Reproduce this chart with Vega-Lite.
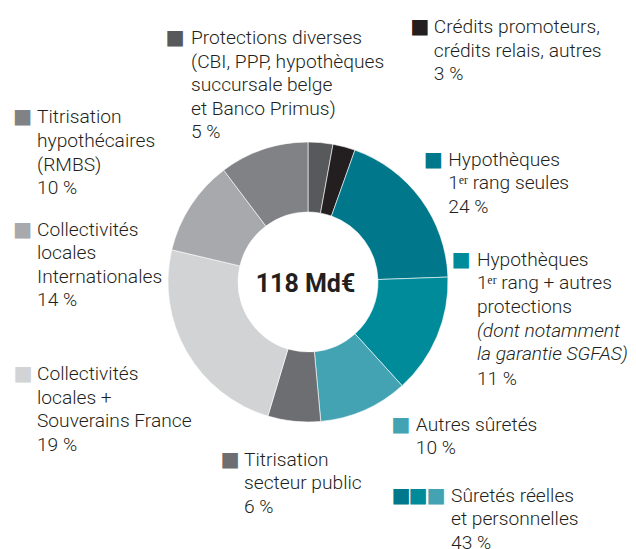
{
"$schema": "https://vega.github.io/schema/vega-lite/v6.json",
"width": 616, "height": 534, "autosize": "none",
"padding": {"left": 0, "top": 15, "right": 20, "bottom": 0},
"background": "white",
"config": {"view": {"stroke": null}, "text": {"font": "Roboto", "fontSize": 19.2, "fontWeight": 300, "color": "#231f20", "lineHeight": 23.6, "lineBreak": "\n", "align": "left", "baseline": "alphabetic"}},
"data": {"values": [
{"cat": "prot", "order": 1, "share": 2.86, "pct": 5, "text": "Protections diverses\n(CBI, PPP, hypothèques\nsuccursale belge\net Banco Primus)\n5 %"},
{"cat": "cred", "order": 2, "share": 2.58, "pct": 3, "text": "Crédits promoteurs,\ncrédits relais, autres\n3 %"},
{"cat": "hyp1", "order": 3, "share": 19.0, "pct": 24, "text": "Hypothèques\n1ᵉʳ rang seules\n24 %"},
{"cat": "hyp2", "order": 4, "share": 13.83, "pct": 11, "text": "Hypothèques\n1ᵉʳ rang + autres\nprotections", "note": "(dont notamment\nla garantie SGFAS)", "tail": "11 %"},
{"cat": "autres", "order": 5, "share": 10.28, "pct": 10, "text": "Autres sûretés\n10 %"},
{"cat": "titsp", "order": 6, "share": 6.08, "pct": 6, "text": "Titrisation\nsecteur public\n6 %"},
{"cat": "collfr", "order": 7, "share": 24.06, "pct": 19, "text": "Collectivités\nlocales +\nSouverains France\n19 %"},
{"cat": "collint", "order": 8, "share": 11.03, "pct": 14, "text": "Collectivités\nlocales\nInternationales\n14 %"},
{"cat": "tithyp", "order": 9, "share": 10.28, "pct": 10, "text": "Titrisation\nhypothécaires\n(RMBS)\n10 %"}
]},
"transform": [{"stack": "share", "groupby": [], "sort": [{"field": "order", "order": "ascending"}], "as": ["s0", "s1"]}],
"encoding": {
  "color": {"field": "cat", "type": "nominal", "legend": null, "scale": {"domain": ["prot", "cred", "hyp1", "hyp2", "autres", "titsp", "collfr", "collint", "tithyp"], "range": ["#58595b", "#231f20", "#00778a", "#008b9b", "#43a3b2", "#6d6e71", "#d1d3d4", "#a7a9ac", "#808285"]}}
},
"layer": [
{"mark": {"type": "arc", "outerRadius": 140, "innerRadius": 70, "stroke": "#ffffff", "strokeWidth": 0.6},
 "encoding": {"theta": {"field": "s0", "type": "quantitative", "stack": null, "scale": {"domain": [0, 100]}}, "theta2": {"field": "s1"}}},
{"data": {"values": [{"t": "118 Md€"}]}, "mark": {"type": "text", "radius": 0, "align": "center", "fontWeight": "bold", "fontSize": 25, "dx": -2.5, "dy": 9.7},
 "encoding": {"text": {"field": "t"}, "color": {"value": "#231f20"}}},

{"transform": [{"filter": "datum.cat === 'prot'"}], "mark": {"type": "text", "radius": 150, "dx": -117, "dy": -88},
 "encoding": {"theta": {"field": "s0", "type": "quantitative", "stack": null, "scale": {"domain": [0, 100]}}, "text": {"field": "text"}, "color": {"value": "#231f20"}}},
{"transform": [{"filter": "datum.cat === 'prot'"}], "mark": {"type": "text", "radius": 150, "font": "DejaVu Sans", "fontWeight": "normal", "fontSize": 20.3, "dx": -142.5, "dy": -88},
 "encoding": {"theta": {"field": "s0", "type": "quantitative", "stack": null, "scale": {"domain": [0, 100]}}, "text": {"value": "■"}}},

{"transform": [{"filter": "datum.cat === 'cred'"}], "mark": {"type": "text", "radius": 150, "dx": 99, "dy": -101.4},
 "encoding": {"theta": {"field": "s0", "type": "quantitative", "stack": null, "scale": {"domain": [0, 100]}}, "text": {"field": "text"}, "color": {"value": "#231f20"}}},
{"transform": [{"filter": "datum.cat === 'cred'"}], "mark": {"type": "text", "radius": 150, "font": "DejaVu Sans", "fontWeight": "normal", "fontSize": 20.3, "dx": 75.5, "dy": -101.4},
 "encoding": {"theta": {"field": "s0", "type": "quantitative", "stack": null, "scale": {"domain": [0, 100]}}, "text": {"value": "■"}}},

{"transform": [{"filter": "datum.cat === 'hyp1'"}], "mark": {"type": "text", "radius": 150, "dx": 90, "dy": 25},
 "encoding": {"theta": {"field": "s0", "type": "quantitative", "stack": null, "scale": {"domain": [0, 100]}}, "text": {"field": "text"}, "color": {"value": "#231f20"}}},
{"transform": [{"filter": "datum.cat === 'hyp1'"}], "mark": {"type": "text", "radius": 150, "font": "DejaVu Sans", "fontWeight": "normal", "fontSize": 20.3, "dx": 65.5, "dy": 25},
 "encoding": {"theta": {"field": "s0", "type": "quantitative", "stack": null, "scale": {"domain": [0, 100]}}, "text": {"value": "■"}}},

{"transform": [{"filter": "datum.cat === 'hyp2'"}], "mark": {"type": "text", "radius": 150, "dx": 19, "dy": -11},
 "encoding": {"theta": {"field": "s0", "type": "quantitative", "stack": null, "scale": {"domain": [0, 100]}}, "text": {"field": "text"}, "color": {"value": "#231f20"}}},
{"transform": [{"filter": "datum.cat === 'hyp2'"}], "mark": {"type": "text", "radius": 150, "fontStyle": "italic", "dx": 19, "dy": 60},
 "encoding": {"theta": {"field": "s0", "type": "quantitative", "stack": null, "scale": {"domain": [0, 100]}}, "text": {"field": "note"}, "color": {"value": "#231f20"}}},
{"transform": [{"filter": "datum.cat === 'hyp2'"}], "mark": {"type": "text", "radius": 150, "dx": 19, "dy": 108.5},
 "encoding": {"theta": {"field": "s0", "type": "quantitative", "stack": null, "scale": {"domain": [0, 100]}}, "text": {"field": "tail"}, "color": {"value": "#231f20"}}},
{"transform": [{"filter": "datum.cat === 'hyp2'"}], "mark": {"type": "text", "radius": 150, "font": "DejaVu Sans", "fontWeight": "normal", "fontSize": 20.3, "dx": -6.5, "dy": -11},
 "encoding": {"theta": {"field": "s0", "type": "quantitative", "stack": null, "scale": {"domain": [0, 100]}}, "text": {"value": "■"}}},

{"transform": [{"filter": "datum.cat === 'autres'"}], "mark": {"type": "text", "radius": 150, "dx": 7, "dy": 37.7},
 "encoding": {"theta": {"field": "s0", "type": "quantitative", "stack": null, "scale": {"domain": [0, 100]}}, "text": {"field": "text"}, "color": {"value": "#231f20"}}},
{"transform": [{"filter": "datum.cat === 'autres'"}], "mark": {"type": "text", "radius": 150, "font": "DejaVu Sans", "fontWeight": "normal", "fontSize": 20.3, "dx": -17.5, "dy": 37.7},
 "encoding": {"theta": {"field": "s0", "type": "quantitative", "stack": null, "scale": {"domain": [0, 100]}}, "text": {"value": "■"}}},

{"transform": [{"filter": "datum.cat === 'titsp'"}], "mark": {"type": "text", "radius": 150, "dx": -77.6, "dy": 34.3},
 "encoding": {"theta": {"field": "s0", "type": "quantitative", "stack": null, "scale": {"domain": [0, 100]}}, "text": {"field": "text"}, "color": {"value": "#231f20"}}},
{"transform": [{"filter": "datum.cat === 'titsp'"}], "mark": {"type": "text", "radius": 150, "font": "DejaVu Sans", "fontWeight": "normal", "fontSize": 20.3, "dx": -101.1, "dy": 34.3},
 "encoding": {"theta": {"field": "s0", "type": "quantitative", "stack": null, "scale": {"domain": [0, 100]}}, "text": {"value": "■"}}},

{"transform": [{"filter": "datum.cat === 'collfr'"}], "mark": {"type": "text", "radius": 150, "dx": -228, "dy": -45.7},
 "encoding": {"theta": {"field": "s0", "type": "quantitative", "stack": null, "scale": {"domain": [0, 100]}}, "text": {"field": "text"}, "color": {"value": "#231f20"}}},
{"transform": [{"filter": "datum.cat === 'collfr'"}], "mark": {"type": "text", "radius": 150, "font": "DejaVu Sans", "fontWeight": "normal", "fontSize": 20.3, "dx": -251.5, "dy": -45.7},
 "encoding": {"theta": {"field": "s0", "type": "quantitative", "stack": null, "scale": {"domain": [0, 100]}}, "text": {"value": "■"}}},

{"transform": [{"filter": "datum.cat === 'collint'"}], "mark": {"type": "text", "radius": 150, "dx": -125, "dy": -12},
 "encoding": {"theta": {"field": "s0", "type": "quantitative", "stack": null, "scale": {"domain": [0, 100]}}, "text": {"field": "text"}, "color": {"value": "#231f20"}}},
{"transform": [{"filter": "datum.cat === 'collint'"}], "mark": {"type": "text", "radius": 150, "font": "DejaVu Sans", "fontWeight": "normal", "fontSize": 20.3, "dx": -149, "dy": -12},
 "encoding": {"theta": {"field": "s0", "type": "quantitative", "stack": null, "scale": {"domain": [0, 100]}}, "text": {"value": "■"}}},

{"transform": [{"filter": "datum.cat === 'tithyp'"}], "mark": {"type": "text", "radius": 150, "dx": -180.7, "dy": -38.9},
 "encoding": {"theta": {"field": "s0", "type": "quantitative", "stack": null, "scale": {"domain": [0, 100]}}, "text": {"field": "text"}, "color": {"value": "#231f20"}}},
{"transform": [{"filter": "datum.cat === 'tithyp'"}], "mark": {"type": "text", "radius": 150, "font": "DejaVu Sans", "fontWeight": "normal", "fontSize": 20.3, "dx": -204.7, "dy": -38.9},
 "encoding": {"theta": {"field": "s0", "type": "quantitative", "stack": null, "scale": {"domain": [0, 100]}}, "text": {"value": "■"}}},

{"transform": [{"filter": "datum.cat === 'hyp1'"}], "mark": {"type": "text", "radius": 150, "font": "DejaVu Sans", "fontWeight": "normal", "fontSize": 20.3, "dx": 33.2, "dy": 361},
 "encoding": {"theta": {"field": "s0", "type": "quantitative", "stack": null, "scale": {"domain": [0, 100]}}, "text": {"value": "■"}}},
{"transform": [{"filter": "datum.cat === 'hyp2'"}], "mark": {"type": "text", "radius": 150, "font": "DejaVu Sans", "fontWeight": "normal", "fontSize": 20.3, "dx": -49.4, "dy": 225},
 "encoding": {"theta": {"field": "s0", "type": "quantitative", "stack": null, "scale": {"domain": [0, 100]}}, "text": {"value": "■"}}},
{"transform": [{"filter": "datum.cat === 'autres'"}], "mark": {"type": "text", "radius": 150, "font": "DejaVu Sans", "fontWeight": "normal", "fontSize": 20.3, "dx": 17.7, "dy": 108.7},
 "encoding": {"theta": {"field": "s0", "type": "quantitative", "stack": null, "scale": {"domain": [0, 100]}}, "text": {"value": "■"}}},
{"transform": [{"filter": "datum.cat === 'autres'"}], "mark": {"type": "text", "radius": 150, "dx": 42.2, "dy": 108.7},
 "encoding": {"theta": {"field": "s0", "type": "quantitative", "stack": null, "scale": {"domain": [0, 100]}}, "text": {"value": "Sûretés réelles\net personnelles\n43 %"}, "color": {"value": "#231f20"}}}
]
}
